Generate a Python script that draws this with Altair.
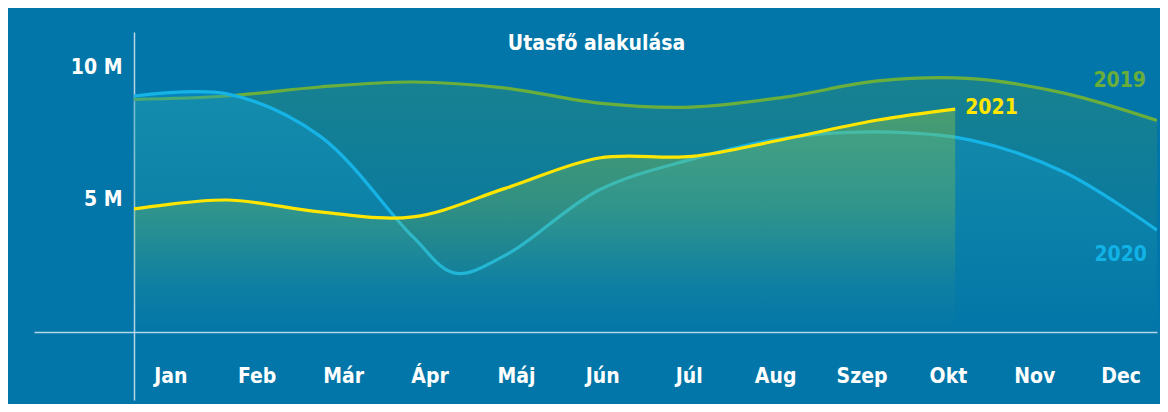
import altair as alt
import pandas as pd

# ---- data (millions of passengers) ----
months = ["Jan", "Feb", "Már", "Ápr", "Máj", "Jún", "Júl", "Aug", "Szep", "Okt", "Nov", "Dec"]

pos_2019 = [0, 1, 2, 3, 4, 5, 6, 7, 8, 9, 10, 11]
val_2019 = [8.81, 8.94, 9.28, 9.47, 9.24, 8.67, 8.52, 8.90, 9.51, 9.60, 9.05, 8.01]

pos_2020 = [0, 1, 2, 3, 3.45, 4, 5, 6, 7, 8, 9, 10, 11]
val_2020 = [8.94, 9.02, 7.42, 3.60, 2.23, 2.92, 5.38, 6.55, 7.35, 7.58, 7.27, 6.06, 3.86]

pos_2021 = [0, 1, 2, 3, 4, 5, 6, 7, 8, 8.83]
val_2021 = [4.66, 5.00, 4.55, 4.36, 5.45, 6.59, 6.65, 7.31, 8.03, 8.44]

years = ["2019", "2020", "2021"]
line_colors = ["#6aaf3c", "#16b4e6", "#ffe600"]
label_colors = ["#69ad3a", "#12b2e6", "#ffe600"]

title_text = "Utasfő alakulása"
y_ticks = [0, 5, 10]

FONT = "DejaVu Sans Condensed, sans-serif"
FS = 21

rows = []
for yr, ps, vs in zip(years, [pos_2019, pos_2020, pos_2021], [val_2019, val_2020, val_2021]):
    for p, v in zip(ps, vs):
        rows.append({"year": yr, "pos": p, "value": v})
df = pd.DataFrame(rows)

lab = pd.DataFrame({
    "year": years,
    "pos": [pos_2019[-1], pos_2020[-1], pos_2021[-1]],
    "value": [val_2019[-1], val_2020[-1], val_2021[-1]],
})
mdf = pd.DataFrame({"month": months})

xq = alt.X("pos:Q", scale=alt.Scale(domain=[0, 11], nice=False, zero=False), axis=None)
cond0 = lambda on, off: {"condition": {"test": "datum.value === 0", "value": on}, "value": off}
yq = alt.Y(
    "value:Q",
    scale=alt.Scale(domain=[-2.576, 11.364], nice=False, zero=False),
    axis=alt.Axis(
        values=y_ticks,
        title=None,
        labelExpr="datum.value === 0 ? '' : datum.value + ' M'",
        domainColor="#b5d6e8",
        domainWidth=1.5,
        tickColor="#b5d6e8",
        tickWidth=1.5,
        tickSize=100,
        tickOpacity=cond0(1, 0),
        grid=True,
        gridColor="#b5d6e8",
        gridWidth=1.5,
        gridOpacity=cond0(1, 0),
        labelPadding=-88,
        labelOffset=-1,
        labelFont=FONT,
        labelFontSize=FS,
        labelFontWeight="bold",
        labelColor="white",
    ),
)

def grad(stops):
    return alt.Gradient(
        gradient="linear",
        stops=[alt.GradientStop(color=c, offset=o) for o, c in stops],
        x1=0, x2=0, y1=0, y2=1,
    )

fills = {
    "2019": grad([(0, "rgba(100,170,60,0.22)"), (0.6, "rgba(100,170,60,0.08)"), (1, "rgba(100,170,60,0.0)")]),
    "2020": grad([(0, "rgba(15,160,220,0.36)"), (0.6, "rgba(15,160,220,0.14)"), (1, "rgba(15,160,220,0.0)")]),
    "2021": grad([(0, "rgba(150,200,60,0.40)"), (0.45, "rgba(150,200,60,0.26)"), (0.8, "rgba(150,200,60,0.05)"), (1, "rgba(150,200,60,0.0)")]),
}

layers = []
for yr, col in zip(years, line_colors):
    base = alt.Chart(df).transform_filter(alt.datum.year == yr)
    area = base.mark_area(interpolate="catmull-rom", fill=fills[yr], clip=True).encode(
        x=xq, y=yq, y2=alt.datum(0)
    )
    line = base.mark_line(interpolate="catmull-rom", color=col, strokeWidth=3.2, clip=True).encode(
        x=xq, y=yq
    )
    layers += [area, line]

label_offsets = {"2019": (-11, -40, "right"), "2020": (-10, 25, "right"), "2021": (10, -1, "left")}
for yr, col in zip(years, label_colors):
    dx, dy, al = label_offsets[yr]
    t = alt.Chart(lab).transform_filter(alt.datum.year == yr).mark_text(
        font=FONT, fontSize=FS, fontWeight="bold", color=col, align=al, baseline="middle", dx=dx, dy=dy
    ).encode(x=xq, y=yq, text="year:N")
    layers.append(t)

inner = alt.layer(*layers)

month_layer = alt.Chart(mdf).mark_point(opacity=0).encode(
    x=alt.X(
        "month:O",
        sort=months,
        scale=alt.Scale(type="point", padding=0.42),
        axis=alt.Axis(
            orient="bottom",
            title=None,
            domain=False,
            ticks=False,
            labelAngle=0,
            labelPadding=0,
            offset=-24,
            labelBaseline="middle",
            labelFont=FONT,
            labelFontSize=FS,
            labelFontWeight="bold",
            labelColor="white",
        ),
    )
)

chart = (
    alt.layer(inner, month_layer)
    .resolve_scale(x="independent")
    .properties(
        width=1023,
        height=368,
        padding={"left": 126, "top": 24, "right": 3, "bottom": 4},
        autosize=alt.AutoSizeParams(type="none"),
        background="#0276a8",
        title=alt.TitleParams(
            text=title_text,
            anchor="middle",
            dx=-49,
            dy=33,
            offset=0,
            baseline="middle",
            font=FONT,
            fontSize=FS,
            fontWeight="bold",
            color="white",
        ),
    )
    .configure_view(stroke=None)
)

chart.save("out.html", embed_options={"renderer": "svg", "actions": False})
